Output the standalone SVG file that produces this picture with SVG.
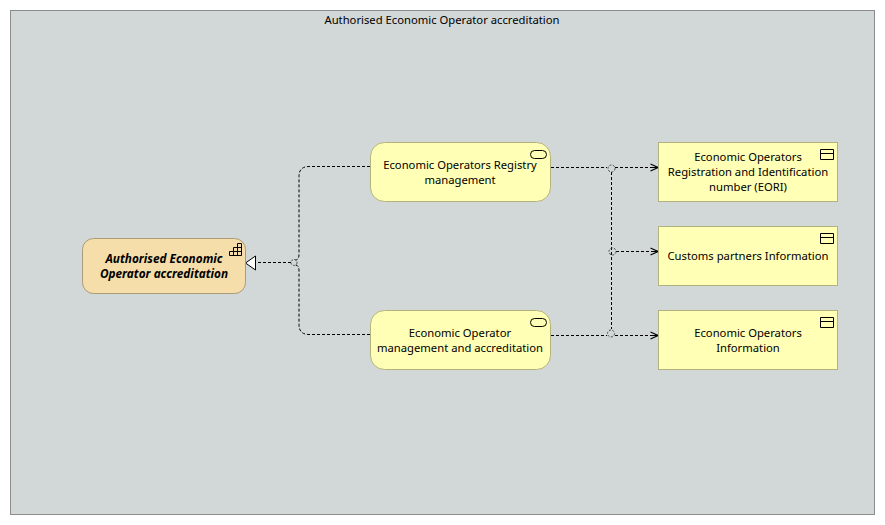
<svg xmlns="http://www.w3.org/2000/svg" width="885" height="525" viewBox="0 0 885 525">
<defs>
<marker id="open" markerWidth="10" markerHeight="10" refX="9" refY="4.500" orient="auto" markerUnits="userSpaceOnUse"><path d="M1.500 1L9 4.500L1.500 8M9 4.500H4" fill="none" stroke="#000" stroke-width="1.100"/></marker>
</defs>
<style>
text{font-family:"Noto Sans","Open Sans","Liberation Sans",sans-serif;font-size:11.25px;fill:#000;text-anchor:middle}
.it{font-weight:700;font-style:italic;font-size:11.8px}
.svc{fill:#ffffb5;stroke:#b3b37e}
.obj{fill:#ffffb5;stroke:#b3b37e}
.biz{fill:#f5deaa;stroke:#ab9b77}
.ic{fill:none;stroke:#000;stroke-width:1}
.c{fill:none;stroke:#000;stroke-width:1;stroke-dasharray:3 2}
.j{fill:none;stroke:#444;stroke-width:1;stroke-dasharray:2 1.500}
</style>
<rect width="885" height="525" fill="#fff"/>
<g id="group-frame"><rect x="10.500" y="10.500" width="864" height="504" fill="#d2d7d7" stroke="#8c8c8c"/><text x="442" y="24">Authorised Economic Operator accreditation</text></g>
<g id="connectors">
<path class="c" d="M370 166.500H309Q299 166.500 299 176.500V254Q299 260 295.500 260"/>
<path class="c" d="M370 334.500H309Q299 334.500 299 324.500V271Q299 265 295.500 265"/>
<path class="c" d="M291 262.500H256"/>
<path d="M255.500 256L245.500 263L255.500 270Z" fill="#fff" stroke="#000"/>
<path class="c" d="M551 167.500H607M615 167.500H658" marker-end="url(#open)"/>
<path class="c" d="M551 335.500H607M615 335.500H658" marker-end="url(#open)"/>
<path class="c" d="M616 251.500H658" marker-end="url(#open)"/>
<path class="c" d="M611.500 172V329"/>
<circle class="j" cx="611.500" cy="168.500" r="3.500"/>
<circle class="j" cx="612.500" cy="251.500" r="3.500"/>
<circle class="j" cx="611" cy="333.500" r="3.500"/>
<circle class="j" cx="294" cy="262.500" r="3"/>
</g>
<g id="node-aeo"><rect class="biz" x="82.500" y="238.500" width="163" height="55" rx="11"/>
<path class="ic" d="M229.500 255.500V251.500H233.500V247.500H237.500V243.500H241.500V255.500ZM233.500 251.500V255.500M237.500 247.500V255.500M233.500 251.500H241.500M237.500 247.500H241.500"/>
<text class="it" x="164" y="263">Authorised Economic</text><text class="it" x="164" y="278">Operator accreditation</text></g>
<g id="node-registry"><rect class="svc" x="370.500" y="142.500" width="180" height="59" rx="14"/>
<rect class="ic" x="530.500" y="150.500" width="16" height="8" rx="4"/>
<text x="460" y="169">Economic Operators Registry</text><text x="460" y="184">management</text></g>
<g id="node-management"><rect class="svc" x="370.500" y="310.500" width="180" height="59" rx="14"/>
<rect class="ic" x="530.500" y="318.500" width="16" height="8" rx="4"/>
<text x="460" y="337">Economic Operator</text><text x="460" y="352">management and accreditation</text></g>
<g id="node-eori"><rect class="obj" x="658.500" y="142.500" width="179" height="59"/>
<path class="ic" d="M820.500 149.500H833.500V159.500H820.500ZM820.500 153.500H833.500"/>
<text x="748" y="161">Economic Operators</text><text x="748" y="176">Registration and Identification</text><text x="748" y="191">number (EORI)</text></g>
<g id="node-partners"><rect class="obj" x="658.500" y="226.500" width="179" height="59"/>
<path class="ic" d="M820.500 233.500H833.500V243.500H820.500ZM820.500 237.500H833.500"/>
<text x="748" y="260">Customs partners Information</text></g>
<g id="node-info"><rect class="obj" x="658.500" y="310.500" width="179" height="59"/>
<path class="ic" d="M820.500 317.500H833.500V327.500H820.500ZM820.500 321.500H833.500"/>
<text x="748" y="337">Economic Operators</text><text x="748" y="352">Information</text></g>
</svg>
